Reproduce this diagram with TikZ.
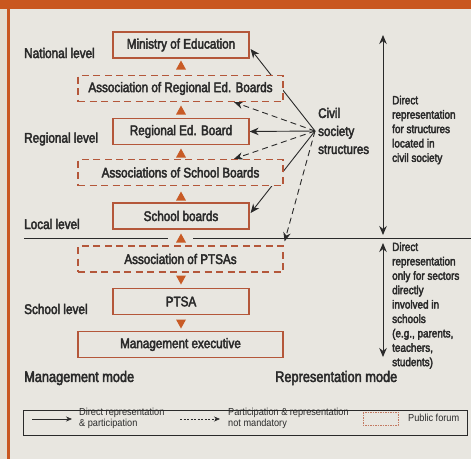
\documentclass[tikz,border=0pt]{standalone}
\usepackage{fontspec}
\setmainfont{Liberation Sans}[FakeStretch=0.85]
\newfontfamily\heavy{Liberation Sans}[FakeStretch=0.84,FakeBold=3]
\newfontfamily\legfont{Liberation Sans}[FakeStretch=0.9]
\usetikzlibrary{arrows.meta,calc}
\definecolor{paper}{HTML}{E8E6E0}
\definecolor{margin}{HTML}{E4DDD0}
\definecolor{band}{HTML}{C9571F}
\definecolor{boxline}{HTML}{B4573A}
\definecolor{tri}{HTML}{C85B26}
\definecolor{ink}{HTML}{2A2A2A}
\pgfdeclarelayer{back}
\pgfdeclarelayer{wires}
\pgfsetlayers{back,wires,main}
\tikzset{
  box/.style={draw=boxline, line width=1.2pt, fill=paper, minimum height=26pt,
    inner sep=0pt, text=ink, font=\heavy\fontsize{13.9}{16}\selectfont},
  narrow/.style={box, minimum width=136pt},
  wide/.style={box, minimum width=205pt},
  forum/.style={wide, dash pattern=on 7pt off 4.5pt},
  level/.style={anchor=west, text=ink, inner sep=0pt, font=\heavy\fontsize{14}{16}\selectfont},
  mode/.style={anchor=west, text=ink, inner sep=0pt, font=\heavy\fontsize{15.2}{18}\selectfont},
  note/.style={anchor=west, align=left, text=ink, inner sep=0pt,
    font=\heavy\fontsize{11.8}{14.4}\selectfont},
  link/.style={draw=ink, line width=0.9pt, -{Stealth[length=9pt,width=7.5pt]}},
  optional/.style={link, dash pattern=on 6pt off 4pt},
  span/.style={draw=ink, line width=0.9pt, {Stealth[length=9pt,width=7.5pt]}-{Stealth[length=9pt,width=7.5pt]}},
  legtext/.style={anchor=west, align=left, text=ink, inner sep=0pt,
    font=\legfont\fontsize{10.2}{11}\selectfont},
  uptick/.pic={\fill[tri] (-5,4.5) -- (5,4.5) -- (0,-4.5) -- cycle;},
  downtick/.pic={\fill[tri] (-5,-4.5) -- (5,-4.5) -- (0,4.5) -- cycle;},
}
\begin{document}
\begin{tikzpicture}[x=1pt,y=-1pt]
\useasboundingbox (0,0) rectangle (471,459);
\begin{pgfonlayer}{back}
  \fill[paper] (0,0) rectangle (471,459);
  \fill[margin] (0,0) rectangle (7,459);
  \fill[band] (0,0) rectangle (471,8.5);
  \fill[band] (7,0) rectangle (9.5,459);
\end{pgfonlayer}

% management hierarchy
\node[narrow] (moe)   at (181,45)    {Ministry of Education};
\node[forum]  (arb)   at (180.5,88.5) {Association of Regional Ed. Boards};
\node[narrow] (reb)   at (181,131.5) {Regional Ed. Board};
\node[forum]  (asb)   at (180.5,172.5) {Associations of School Boards};
\node[narrow] (sb)    at (181,216)   {School boards};
\node[forum]  (aptsa) at (180.5,259) {Association of PTSAs};
\node[narrow] (ptsa)  at (181,301.5) {PTSA};
\node[wide]   (exec)  at (180.5,344.5) {Management executive};

% flow markers between levels
\pic at (181,65)  {uptick};
\pic at (181,110) {uptick};
\pic at (181,153) {uptick};
\pic at (181,196) {uptick};
\pic at (181,238) {uptick};
\pic at (181,280) {downtick};
\pic at (181,324) {downtick};

% boundary between local and school levels
\draw[ink, line width=0.9pt] (24,238) -- (168,238) (193,238) -- (471,238);

% level labels
\node[level] (nat) at (24,53)  {National level};
\node[level] (reg) at (24,139) {Regional level};
\node[level] (loc) at (24,224) {Local level};
\node[level] (sch) at (24,309) {School level};
\node[mode] (mm) at (24,378)  {Management mode};
\node[mode] (rm) at (275,378) {Representation mode};

% civil society
\coordinate (cs) at (315,131);
\node[note, font=\heavy\fontsize{13.8}{18}\selectfont] (cst) at (318,131) {Civil\\society\\structures};
\begin{pgfonlayer}{wires}
  \draw[link] (cs) -- ($(moe.east)+(1,4)$);
  \draw[optional] (cs) -- ($(arb.south)+(53.5,0)$);
  \draw[link] (cs) -- (reb.east);
  \draw[optional] (cs) -- ($(asb.north)+(53.5,0)$);
  \draw[link] (cs) -- ($(sb.east)+(1,-3)$);
  \draw[optional] (cs) -- ($(aptsa.north east)+(1,-4)$);
\end{pgfonlayer}

% representation spans
\coordinate (s1a) at (383,35);
\coordinate (s1b) at (383,235);
\coordinate (s2a) at (383,243);
\coordinate (s2b) at (383,357);
\draw[span] (s1a) -- (s1b);
\draw[span] (s2a) -- (s2b);
\node[note] (n1) at (392,130) {Direct\\representation\\for structures\\located in\\civil society};
\node[note] (n2) at (392,305.5) {Direct\\representation\\only for sectors\\directly\\involved in\\schools\\(e.g., parents,\\teachers,\\students)};

% legend
\draw[ink, line width=0.6pt] (23,410) rectangle (467,435);
\coordinate (l1a) at (32,419);
\coordinate (l1b) at (72,419);
\coordinate (l2a) at (180,419);
\coordinate (l2b) at (220,419);
\draw[ink, line width=0.6pt, -{Stealth[length=6pt,width=5pt]}] (l1a) -- (l1b);
\draw[ink, line width=0.6pt, dash pattern=on 2pt off 1.5pt, -{Stealth[length=6pt,width=5pt]}] (l2a) -- (l2b);
\node[legtext] (lt1) at (79,418.5) {Direct representation\\\& participation};
\node[legtext] (lt2) at (228,418.5) {Participation \& representation\\not mandatory};
\draw[boxline!80, line width=0.5pt, dash pattern=on 1.5pt off 1pt] (363,412) rectangle (398,425);
\node[legtext] (lt3) at (408,418) {Public forum};
\end{tikzpicture}
\end{document}
